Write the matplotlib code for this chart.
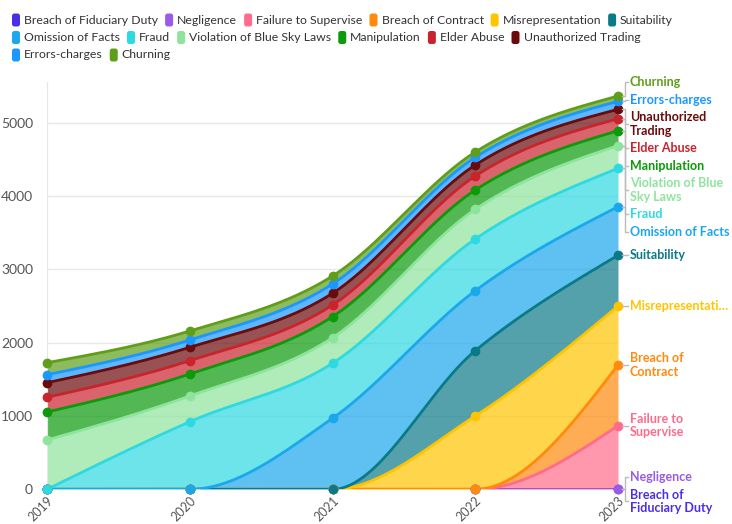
import numpy as np
import matplotlib.pyplot as plt
from matplotlib.patches import FancyBboxPatch
from matplotlib.lines import Line2D
from matplotlib.transforms import IdentityTransform

plt.rcParams['font.family'] = ['Lato', 'DejaVu Sans']

years = [2019, 2020, 2021, 2022, 2023]

names = ["Breach of Fiduciary Duty", "Negligence", "Failure to Supervise",
         "Breach of Contract", "Misrepresentation", "Suitability",
         "Omission of Facts", "Fraud", "Violation of Blue Sky Laws",
         "Manipulation", "Elder Abuse", "Unauthorized Trading",
         "Errors-charges", "Churning"]

# per-category values, stacked bottom -> top in this order
breach_fiduciary = [0, 0, 0, 0, 0]
negligence = [0, 0, 0, 0, 0]
failure_supervise = [0, 0, 0, 0, 868]
breach_contract = [0, 0, 0, 0, 828]
misrepresentation = [0, 0, 0, 1000, 804]
suitability = [0, 0, 0, 891, 692]
omission = [0, 0, 969, 818, 663]
fraud = [0, 922, 750, 706, 524]
blue_sky = [672, 351, 349, 405, 309]
manipulation = [382, 300, 287, 263, 204]
elder_abuse = [201, 182, 159, 191, 164]
unauthorized = [199, 182, 160, 150, 128]
errors_charges = [109, 100, 127, 105, 109]
churning = [164, 123, 109, 73, 73]

series = [breach_fiduciary, negligence, failure_supervise, breach_contract,
          misrepresentation, suitability, omission, fraud, blue_sky,
          manipulation, elder_abuse, unauthorized, errors_charges, churning]

colors = ["#4b2fe6", "#9a5be8", "#ff6b8a", "#ff8a0d", "#ffc400", "#0b7a88",
          "#1aa7ec", "#2fd9e2", "#8ee49c", "#0a9a0a", "#c9232c", "#6b0a0a",
          "#1a98ff", "#5f9e1a"]

end_labels = ["Breach of\nFiduciary Duty", "Negligence", "Failure to\nSupervise",
              "Breach of\nContract", "Misrepresentati…", "Suitability",
              "Omission of Facts", "Fraud", "Violation of Blue\nSky Laws",
              "Manipulation", "Elder Abuse", "Unauthorized\nTrading",
              "Errors-charges", "Churning"]


def monotone(x, y, n=60):
    # monotone cubic (like d3 curveMonotoneX)
    x = np.asarray(x, float)
    y = np.asarray(y, float)
    h = np.diff(x)
    s = np.diff(y) / h
    m = np.zeros_like(y)
    for i in range(1, len(y) - 1):
        s0, s1 = s[i - 1], s[i]
        p = (s0 * h[i] + s1 * h[i - 1]) / (h[i - 1] + h[i])
        sg = (1 if s0 >= 0 else -1) + (1 if s1 >= 0 else -1)
        m[i] = sg * min(abs(s0), abs(s1), 0.5 * abs(p))
    m[0] = (3 * s[0] - m[1]) / 2
    m[-1] = (3 * s[-1] - m[-2]) / 2
    xs, ys = [], []
    for i in range(len(x) - 1):
        t = np.linspace(0, 1, n, endpoint=(i == len(x) - 2))
        h00 = 2 * t**3 - 3 * t**2 + 1
        h10 = t**3 - 2 * t**2 + t
        h01 = -2 * t**3 + 3 * t**2
        h11 = t**3 - t**2
        xs.append(x[i] + t * h[i])
        ys.append(h00 * y[i] + h10 * h[i] * m[i] + h01 * y[i + 1] + h11 * h[i] * m[i + 1])
    return np.concatenate(xs), np.concatenate(ys)


W, H = 732, 524
fig = plt.figure(figsize=(W / 100, H / 100), dpi=100)
ax_l, ax_r, ax_t, ax_b = 47, 618, 82, 489.3
ax = fig.add_axes([ax_l / W, 1 - ax_b / H, (ax_r - ax_l) / W, (ax_b - ax_t) / H])

cum = np.cumsum(np.array(series, float), axis=0)
xs, base = monotone(years, np.zeros(len(years)))
smooth = [monotone(years, c)[1] for c in cum]

for i in range(len(series)):
    lower = base if i == 0 else smooth[i - 1]
    ax.fill_between(xs, lower, smooth[i], color=colors[i], alpha=0.7, lw=0, zorder=2)
for i in range(len(series)):
    ax.plot(xs, smooth[i], color=colors[i], lw=2, zorder=3, solid_capstyle='round')
    ax.plot(years, cum[i], 'o', color=colors[i], ms=6, zorder=4, clip_on=False)

ax.set_xlim(2019, 2023)
ax.set_ylim(0, 5557)
ax.set_yticks(range(0, 6000, 1000))
ax.set_xticks(years)
ax.set_xticklabels([str(y) for y in years], rotation=45, ha='right', va='top',
                   rotation_mode='anchor', color='#555555', fontsize=9)
ax.tick_params(axis='y', length=0, pad=10, labelcolor='#555555', labelsize=10)
ax.tick_params(axis='x', length=3, color='#cccccc', pad=1)
ax.grid(axis='y', color='#e8e8e8', lw=1, zorder=0)
for side in ['top', 'right', 'bottom']:
    ax.spines[side].set_visible(False)
ax.spines['left'].set_color('#e6e6e6')

# end labels with simple collision avoidance (display pixels, y down)
fig.canvas.draw()
pts = [ax.transData.transform((2023, c[-1])) for c in cum]
targets = [H - p[1] for p in pts]
heights = [18 + 12 * lab.count('\n') for lab in end_labels]
order = sorted(range(len(series)), key=lambda k: (targets[k], -k))
groups = [[k] for k in order]


def place(g):
    offs, o = [], 0
    for k in g:
        offs.append(o + heights[k] / 2)
        o += heights[k]
    top = np.mean([targets[k] - off for k, off in zip(g, offs)])
    top = max(top, ax_t - heights[g[0]] / 2)
    return top, o


changed = True
while changed:
    changed = False
    for j in range(len(groups) - 1):
        t1, h1 = place(groups[j])
        t2, h2 = place(groups[j + 1])
        if t1 + h1 > t2:
            groups[j] = groups[j] + groups[j + 1]
            del groups[j + 1]
            changed = True
            break

for g in groups:
    top, _ = place(g)
    o = top
    for k in g:
        ly = o + heights[k] / 2
        o += heights[k]
        py = targets[k]
        fig.add_artist(Line2D([622, 625, 625, 628], [H - py, H - py, H - ly, H - ly],
                              transform=IdentityTransform(), color='#bbbbbb', lw=1))
        fig.text(630, H - ly, end_labels[k], transform=IdentityTransform(),
                 ha='left', va='center', color=colors[k], fontsize=9,
                 fontweight='bold', linespacing=1.15)

# legend, flowing rows at the top
renderer = fig.canvas.get_renderer()
x, row_y = 12, 20
for name, c in zip(names, colors):
    t = fig.text(0, 0, name, transform=IdentityTransform(), fontsize=8.8,
                 color='#333333', va='center', ha='left')
    w = t.get_window_extent(renderer=renderer).width
    if x + 12 + w > W - 8:
        x = 12
        row_y += 17.5
    t.set_position((x + 12, H - row_y))
    fig.add_artist(FancyBboxPatch((x, H - row_y - 6.5), 8, 13,
                                  boxstyle='round,pad=0,rounding_size=2.5',
                                  transform=IdentityTransform(), fc=c, ec='none'))
    x += 12 + w + 7

fig.savefig('out.png', dpi=100)
